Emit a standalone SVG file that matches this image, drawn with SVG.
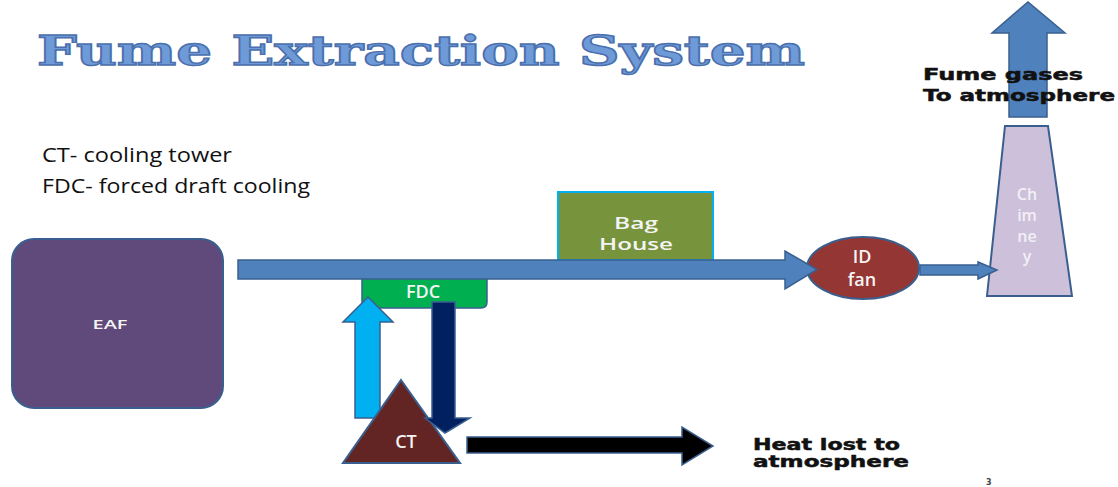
<svg xmlns="http://www.w3.org/2000/svg" width="1118" height="487" viewBox="0 0 1118 487">
<defs>
<style>
.title{font-family:"DejaVu Serif",serif;font-weight:bold;font-size:41px;fill:#6f9ad8;stroke:#4a70ad;stroke-width:1.4}
.legend{font-family:"Open Sans","Liberation Sans",sans-serif;font-size:20px;fill:#111}
.ntext{font-family:"Open Sans","DejaVu Sans",sans-serif;font-weight:600;fill:#f4f4f4;text-anchor:middle}
.btext{font-family:"DejaVu Sans","Liberation Sans",sans-serif;font-weight:bold;font-size:16px;fill:#111;stroke:#111;stroke-width:0.5}
.edge{stroke:#3a5f8f;stroke-width:1.5;stroke-linejoin:miter}
</style>
</defs>
<rect width="1118" height="487" fill="#ffffff"/>
<text class="title" x="37" y="65" textLength="768" lengthAdjust="spacingAndGlyphs">Fume Extraction System</text>
<text class="legend" x="42" y="162" textLength="190" lengthAdjust="spacingAndGlyphs">CT- cooling tower</text>
<text class="legend" x="42" y="193" textLength="268" lengthAdjust="spacingAndGlyphs">FDC- forced draft cooling</text>

<g id="nodes">
<g id="eaf">
<rect x="12" y="239" width="211" height="169" rx="22" fill="#604a7b" stroke="#3a5f8f" stroke-width="2"/>
<text class="ntext" x="110" y="329" font-size="13" textLength="35" lengthAdjust="spacingAndGlyphs">EAF</text>
</g>
<g id="baghouse">
<rect x="558" y="192" width="155" height="68" fill="#77933c" stroke="#00b0f0" stroke-width="2"/>
<text class="ntext" x="636" y="229" font-size="16" textLength="44" lengthAdjust="spacingAndGlyphs">Bag</text>
<text class="ntext" x="636" y="250" font-size="16" textLength="74" lengthAdjust="spacingAndGlyphs">House</text>
</g>
<g id="fdc">
<path d="M362,278 L487,278 L487,302 Q487,308 481,308 L368,308 Q362,308 362,302 Z" fill="#00b050" stroke="#3a5f8f" stroke-width="1.5"/>
<text class="ntext" x="423" y="298" font-size="18">FDC</text>
</g>
<g id="idfan">
<ellipse cx="863" cy="268" rx="56" ry="31" fill="#943634" stroke="#3a5f8f" stroke-width="2"/>
<text class="ntext" x="862" y="263" font-size="18">ID</text>
<text class="ntext" x="862" y="286" font-size="18">fan</text>
</g>
<g id="chimney">
<polygon points="1005,126 1048,126 1072,296 987,296" fill="#ccc0da" stroke="#3a5f8f" stroke-width="2"/>
<text class="ntext" x="1027" y="200" font-size="16" style="fill:#f2f0f6">Ch</text>
<text class="ntext" x="1027" y="221" font-size="16" style="fill:#f2f0f6">im</text>
<text class="ntext" x="1027" y="242" font-size="16" style="fill:#f2f0f6">ne</text>
<text class="ntext" x="1027" y="262" font-size="16" style="fill:#f2f0f6">y</text>
</g>
</g>

<g id="connectors">
<polygon class="edge" fill="#4f81bd" points="238,260 785,260 785,251 817,269.5 785,289 785,279 238,279"/>
<polygon class="edge" fill="#4f81bd" points="920,265 978,265 978,262 997,270 978,279 978,275 920,275"/>
<polygon class="edge" fill="#4f81bd" points="1009,117 1009,33 992,33 1028,2 1065,33 1047,33 1047,117"/>
<polygon class="edge" fill="#00b0f0" points="355,418 355,322 343,322 368,297 393,322 380,322 380,418"/>
</g>

<g id="ct">
<polygon points="401,380 460,463 343,463" fill="#632523" stroke="#3a5f8f" stroke-width="2"/>
<text class="ntext" x="406" y="448" font-size="18">CT</text>
</g>

<g id="connectors2">
<polygon class="edge" fill="#002060" points="432,302 455,302 455,418 470,418 445,433 425,418 432,418"/>
<polygon class="edge" fill="#000000" points="467,437 682,437 682,427 713,446 682,465 682,453 467,453"/>
</g>

<text class="btext" x="923" y="80" textLength="160" lengthAdjust="spacingAndGlyphs">Fume gases</text>
<text class="btext" x="923" y="101" textLength="192" lengthAdjust="spacingAndGlyphs">To atmosphere</text>
<text class="btext" x="753" y="450" textLength="147" lengthAdjust="spacingAndGlyphs">Heat lost to</text>
<text class="btext" x="753" y="467" textLength="156" lengthAdjust="spacingAndGlyphs">atmosphere</text>
<text x="986" y="485" font-family="DejaVu Sans, sans-serif" font-size="8" font-weight="bold" fill="#444">3</text>
</svg>
